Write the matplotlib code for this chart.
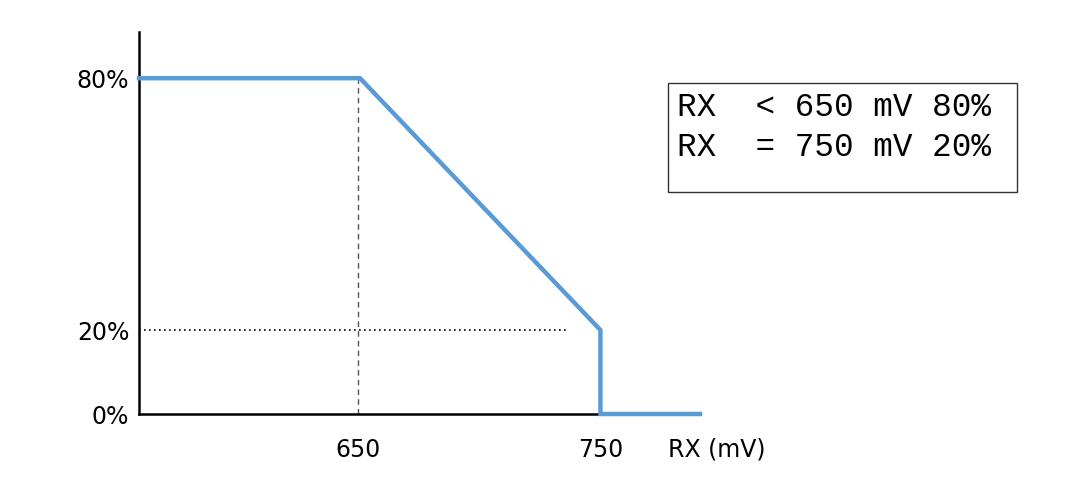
import matplotlib.pyplot as plt
from matplotlib.patches import Rectangle

# curve points (mV, %)
rx_mv = [560, 651, 750, 750, 791]
pct = [80, 80, 20, 0, 0]

x_ticks = [650, 750]
y_ticks = [0, 20, 80]
y_labels = ['0%', '20%', '80%']

note_lines = ['RX  < 650 mV 80%', 'RX  = 750 mV 20%']

fig = plt.figure(figsize=(10.92, 5.0), dpi=100)
ax = fig.add_axes([139 / 1092, 86 / 500, (700 - 139) / 1092, (414 - 32) / 500])
ax.set_xlim(560, 791)
ax.set_ylim(0, 91)

# guide lines
ax.plot([650, 650], [0, 80], color='#555555', lw=1, ls=(0, (4, 3)), zorder=1)
ax.plot([560, 736], [20, 20], color='black', lw=1.2, ls=(0, (1, 2)), zorder=1)

ax.plot(rx_mv, pct, color='#5B9BD5', lw=3.2, solid_joinstyle='miter', zorder=3, clip_on=False)

for s in ['top', 'right']:
    ax.spines[s].set_visible(False)
ax.spines['left'].set_linewidth(1.8)
ax.spines['bottom'].set_linewidth(1.8)
ax.spines['bottom'].set_bounds(560, 750)

ax.set_xticks(x_ticks)
ax.set_xticklabels([str(v) for v in x_ticks])
ax.set_yticks(y_ticks)
ax.set_yticklabels(y_labels)
ax.tick_params(length=0, labelsize=17, colors='black')
ax.tick_params(axis='x', pad=17)
ax.tick_params(axis='y', pad=7)

fig.text(668 / 1092, 1 - 449 / 500, 'RX (mV)', fontsize=17, va='center', ha='left')

# note box
fig.patches.append(Rectangle((668 / 1092, 1 - 192 / 500), (1017 - 668) / 1092, (192 - 83) / 500,
                             transform=fig.transFigure, fill=False, ec='#333333', lw=1))
for i, line in enumerate(note_lines):
    fig.text(677 / 1092, 1 - (107 + 41 * i) / 500, line, family='Liberation Mono',
             fontsize=23.5, va='center', ha='left')

fig.savefig('out.png', dpi=100, facecolor='white')
